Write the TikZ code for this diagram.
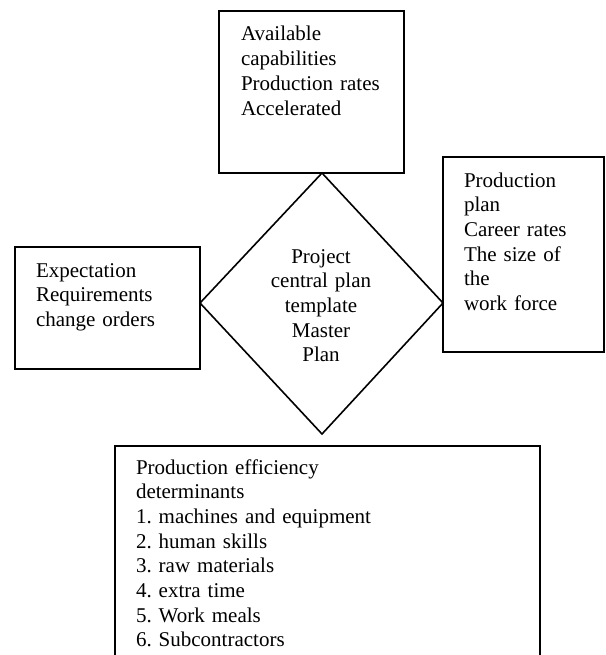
\documentclass[tikz,border=0pt]{standalone}
\usepackage{fontspec}
\setmainfont{Liberation Serif}
\frenchspacing
\begin{document}
\begin{tikzpicture}[x=1bp,y=-1bp,
  frame/.style={draw=black,line width=2bp},
  rhomb/.style={draw=black,line width=1.6bp,line join=miter},
  label/.style={inner sep=0pt,outer sep=0pt,text width=260bp,align=left,
    anchor=base west,font=\fontsize{21bp}{24.7bp}\selectfont},
  centrelabel/.style={label,text width=200bp,align=center,anchor=base}
]
\useasboundingbox (0,0) rectangle (606,655);

% outer boxes
\draw[frame] (219,11) rectangle (404,173);
\draw[frame] (15,247) rectangle (200,369);
\draw[frame] (443,157) rectangle (604,352);
\draw[frame] (115,446) rectangle (540,670);

% central diamond
\coordinate (dtop) at (322,173);
\coordinate (dright) at (443,303);
\coordinate (dbottom) at (322,434);
\coordinate (dleft) at (200,303);
\draw[rhomb] (dtop) -- (dright) -- (dbottom) -- (dleft) -- cycle;

% texts
\node[label] (captext) at (241,41)
  {Available\\capabilities\\Production rates\\Accelerated};
\node[label] (exptext) at (36,277)
  {Expectation\\Requirements\\change orders};
\node[label] (plantext) at (464,187)
  {Production\\plan\\Career rates\\The size of\\the\\work force};
\node[centrelabel] (master) at (321,263)
  {Project\\central plan\\template\\Master\\Plan};
\node[label,text width=400bp] (efftext) at (136,474)
  {Production efficiency\\determinants\\1. machines and equipment\\2. human skills\\3. raw materials\\4. extra time\\5. Work meals\\6. Subcontractors};
\end{tikzpicture}
\end{document}
